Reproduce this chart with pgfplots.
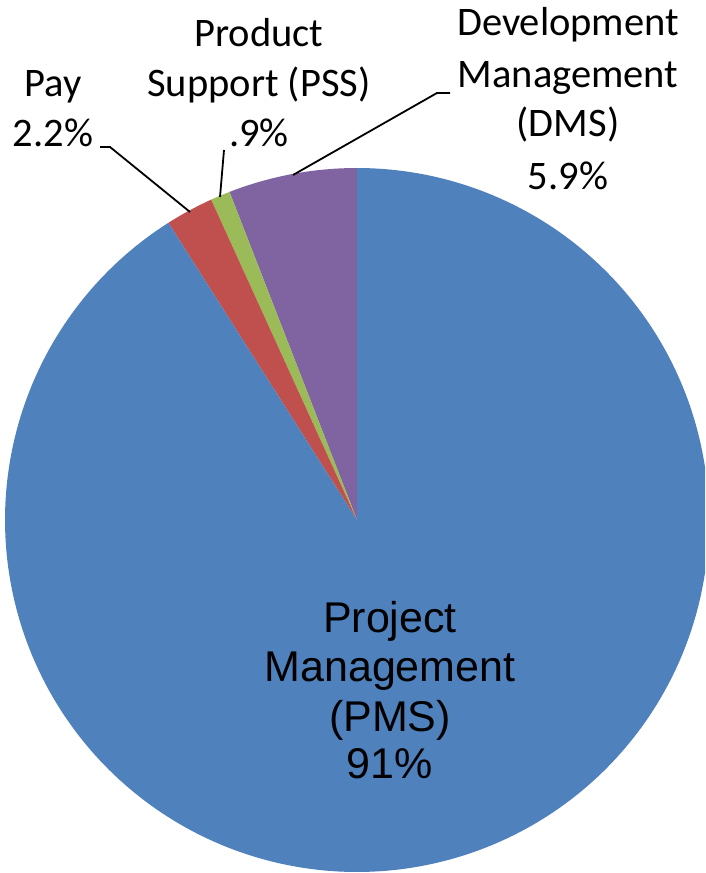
\documentclass[border=0pt]{standalone}
\usepackage{pgfplots}
\pgfplotsset{compat=1.18}
\usepackage{fontspec}
\newfontfamily\calibri{Carlito}
\newfontfamily\arial{Liberation Sans}
\definecolor{cPMS}{HTML}{4F81BD}
\definecolor{cPay}{HTML}{C0504D}
\definecolor{cPSS}{HTML}{9BBB59}
\definecolor{cDMS}{HTML}{8064A2}
% slice values (percent)
\def\vPMS{91}
\def\vPay{2.2}
\def\vPSS{0.9}
\def\vDMS{5.9}
\begin{document}
\begin{tikzpicture}
\pgfmathsetmacro\aA{90}
\pgfmathsetmacro\aB{\aA+3.6*\vDMS}
\pgfmathsetmacro\aC{\aB+3.6*\vPSS}
\pgfmathsetmacro\aD{\aC+3.6*\vPay}
\pgfmathsetmacro\aE{\aD+3.6*\vPMS}
\begin{axis}[
  x=1pt, y=1pt,
  xmin=0, xmax=705, ymin=0, ymax=873,
  hide axis,
  clip=true,
]
\addplot[fill=cDMS, draw=none, domain=\aA:\aB, samples=30] ({357+352*cos(x)},{353+352*sin(x)}) -- (axis cs:357,353) -- cycle;
\addplot[fill=cPSS, draw=none, domain=\aB:\aC, samples=10] ({357+352*cos(x)},{353+352*sin(x)}) -- (axis cs:357,353) -- cycle;
\addplot[fill=cPay, draw=none, domain=\aC:\aD, samples=15] ({357+352*cos(x)},{353+352*sin(x)}) -- (axis cs:357,353) -- cycle;
\addplot[fill=cPMS, draw=none, domain=\aD:\aE, samples=300] ({357+352*cos(x)},{353+352*sin(x)}) -- (axis cs:357,353) -- cycle;
% leader lines
\draw[black, line width=1.8pt] (axis cs:100,726) -- (axis cs:110,726) -- (axis cs:190,661);
\draw[black, line width=1.8pt] (axis cs:224,723) -- (axis cs:220,676);
\draw[black, line width=1.8pt] (axis cs:450,780) -- (axis cs:437,780) -- (axis cs:293,698);
% outer labels
\begin{scope}[every node/.style={anchor=base, inner sep=0pt, font=\calibri\fontsize{40.5}{44}\selectfont}]
\node at (axis cs:53,776) {Pay};
\node at (axis cs:53,726) {2.2\%};
\node at (axis cs:259,826) {Product};
\node at (axis cs:259,776) {Support (PSS)};
\node at (axis cs:259,726) {.9\%};
\node at (axis cs:568,837) {Development};
\node at (axis cs:568,785) {Management};
\node at (axis cs:568,736) {(DMS)};
\node at (axis cs:568,683) {5.9\%};
\end{scope}
\begin{scope}[every node/.style={anchor=base, inner sep=0pt, font=\arial\fontsize{43}{50}\selectfont}]
\node at (axis cs:390,240) {Project};
\node at (axis cs:390,191) {Management};
\node at (axis cs:390,141) {(PMS)};
\node at (axis cs:390,95) {91\%};
\end{scope}
\coordinate (bl) at (rel axis cs:0,0);
\coordinate (tr) at (rel axis cs:1,1);
\end{axis}
\pgfresetboundingbox
\useasboundingbox (bl) rectangle (tr);
\end{tikzpicture}
\end{document}
